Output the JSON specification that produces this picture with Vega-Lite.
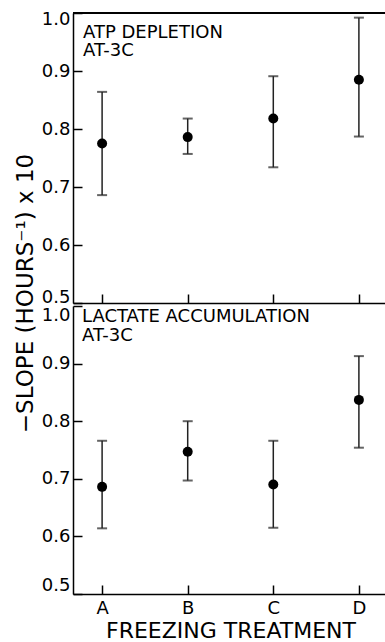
{
  "$schema": "https://vega.github.io/schema/vega-lite/v6.json",
  "padding": {"top": 10, "left": 14, "right": -3, "bottom": 0},
  "background": "white",
  "bounds": "flush",
  "spacing": 3,
  "config": {
    "font": "DejaVu Sans",
    "view": {"stroke": null, "strokeWidth": 0},
    "style": {"cell": {"stroke": "transparent", "strokeWidth": 0}},
    "axis": {
      "grid": false,
      "ticks": true,
      "domainColor": "black",
      "domainWidth": 1.5,
      "tickColor": "black",
      "tickWidth": 1.5,
      "tickSize": -9,
      "labelColor": "black",
      "labelFont": "DejaVu Sans",
      "labelFontSize": 18,
      "titleColor": "black",
      "titleFont": "DejaVu Sans",
      "titleFontWeight": "normal"
    },
    "title": {"font": "DejaVu Sans", "fontWeight": "normal", "color": "black"}
  },
  "datasets": {
    "atp": [
      {"treatment": "A", "slope": 0.775, "lower": 0.686, "upper": 0.864},
      {"treatment": "B", "slope": 0.786, "lower": 0.757, "upper": 0.818},
      {"treatment": "C", "slope": 0.818, "lower": 0.734, "upper": 0.891},
      {"treatment": "D", "slope": 0.885, "lower": 0.787, "upper": 0.992}
    ],
    "lac": [
      {"treatment": "A", "slope": 0.686, "lower": 0.614, "upper": 0.766},
      {"treatment": "B", "slope": 0.747, "lower": 0.697, "upper": 0.8},
      {"treatment": "C", "slope": 0.69, "lower": 0.615, "upper": 0.766},
      {"treatment": "D", "slope": 0.837, "lower": 0.754, "upper": 0.913}
    ]
  },
  "vconcat": [
    {
      "width": 315,
      "height": 290,
      "data": {"name": "atp"},
      "title": {
        "text": ["ATP DEPLETION", "AT-3C"],
        "anchor": "start",
        "frame": "group",
        "orient": "top",
        "baseline": "top",
        "offset": -50,
        "dx": 10,
        "fontSize": 18,
        "lineHeight": 18
      },
      "encoding": {
        "x": {
          "field": "treatment",
          "type": "nominal",
          "sort": ["A", "B", "C", "D"],
          "scale": {"type": "point", "padding": 0.34},
          "axis": {"labels": false, "title": null, "ticks": true, "tickSize": -9}
        }
      },
      "layer": [
        {
          "mark": {"type": "rule", "color": "black", "strokeWidth": 1.5},
          "encoding": {"x": null, "y": {"datum": 1.0}}
        },
        {
          "mark": {"type": "rule", "color": "#222", "strokeWidth": 1.5},
          "encoding": {
            "y": {
              "field": "lower",
              "type": "quantitative",
              "scale": {"domain": [0.5, 1.0], "nice": false, "zero": false},
              "axis": {
                "values": [0.5, 0.6, 0.7, 0.8, 0.9, 1.0],
                "format": ".1f",
                "ticks": true,
                "tickSize": -9,
                "labelPadding": 12,
                "labelFlush": true,
                "labelFlushOffset": 3,
                "title": "−SLOPE (HOURS⁻¹) x 10",
                "titleFontSize": 23,
                "titleY": 280,
                "titlePadding": 4
              }
            },
            "y2": {"field": "upper"}
          }
        },
        {
          "mark": {"type": "tick", "color": "#222", "size": 10, "thickness": 2, "orient": "horizontal"},
          "encoding": {"y": {"field": "lower", "type": "quantitative"}}
        },
        {
          "mark": {"type": "tick", "color": "#222", "size": 10, "thickness": 2, "orient": "horizontal"},
          "encoding": {"y": {"field": "upper", "type": "quantitative"}}
        },
        {
          "mark": {"type": "point", "filled": true, "color": "black", "opacity": 1, "size": 100},
          "encoding": {"y": {"field": "slope", "type": "quantitative"}}
        }
      ]
    },
    {
      "width": 315,
      "height": 288,
      "data": {"name": "lac"},
      "title": {
        "text": ["LACTATE ACCUMULATION", "AT-3C"],
        "anchor": "start",
        "frame": "group",
        "orient": "top",
        "baseline": "top",
        "offset": -40,
        "dx": 9,
        "fontSize": 18,
        "lineHeight": 19
      },
      "encoding": {
        "x": {
          "field": "treatment",
          "type": "nominal",
          "sort": ["A", "B", "C", "D"],
          "scale": {"type": "point", "padding": 0.34},
          "axis": {
            "labelAngle": 0,
            "labelFontSize": 18,
            "labelPadding": 14,
            "ticks": true,
            "tickSize": -9,
            "title": "FREEZING TREATMENT",
            "titleFontSize": 22,
            "titlePadding": 3
          }
        }
      },
      "layer": [
        {
          "mark": {"type": "rule", "color": "#222", "strokeWidth": 1.5},
          "encoding": {
            "y": {
              "field": "lower",
              "type": "quantitative",
              "scale": {"domain": [0.5, 1.0], "nice": false, "zero": false},
              "axis": {
                "values": [0.5, 0.6, 0.7, 0.8, 0.9, 1.0],
                "format": ".1f",
                "ticks": true,
                "tickSize": -9,
                "labelPadding": 12,
                "labelFlush": true,
                "labelFlushOffset": 0,
                "title": null
              }
            },
            "y2": {"field": "upper"}
          }
        },
        {
          "mark": {"type": "tick", "color": "#222", "size": 10, "thickness": 2, "orient": "horizontal"},
          "encoding": {"y": {"field": "lower", "type": "quantitative"}}
        },
        {
          "mark": {"type": "tick", "color": "#222", "size": 10, "thickness": 2, "orient": "horizontal"},
          "encoding": {"y": {"field": "upper", "type": "quantitative"}}
        },
        {
          "mark": {"type": "point", "filled": true, "color": "black", "opacity": 1, "size": 100},
          "encoding": {"y": {"field": "slope", "type": "quantitative"}}
        }
      ]
    }
  ]
}
